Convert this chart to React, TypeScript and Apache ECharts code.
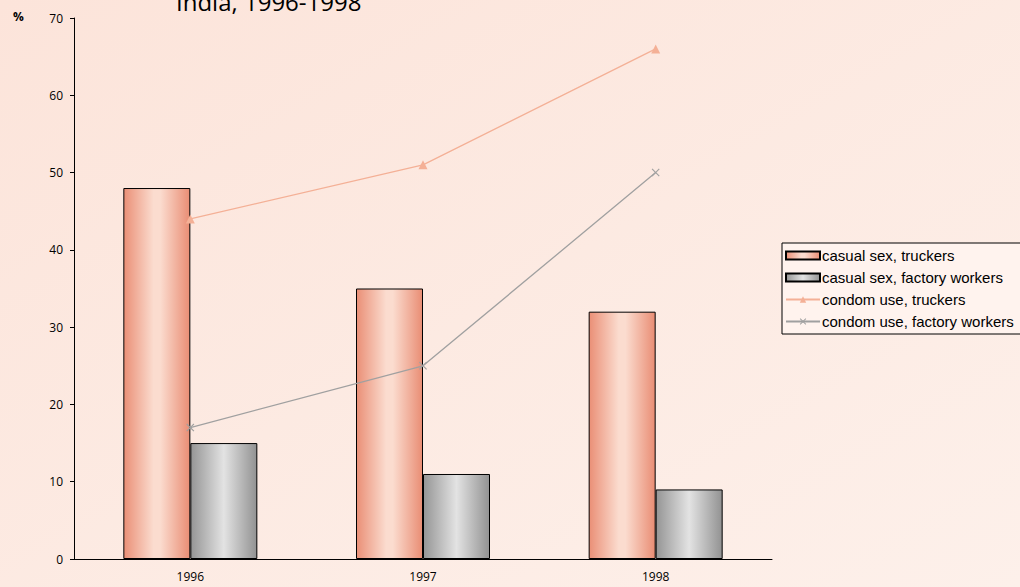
import React, { useEffect, useRef } from "react";
import * as echarts from "echarts";

const years = ["1996", "1997", "1998"];
const casualTruckers = [48, 35, 32];
const casualFactory = [15, 11, 9];
const condomTruckers = [44, 51, 66];
const condomFactory = [17, 25, 50];
const titleText = "India, 1996-1998";

const crossPath =
  "path://M0,1 L1,0 L5,4 L9,0 L10,1 L6,5 L10,9 L9,10 L5,6 L1,10 L0,9 L4,5 Z";

export default function App() {
  const ref = useRef<HTMLDivElement>(null);
  useEffect(() => {
    if (!ref.current) return;
    const chart = echarts.init(ref.current, undefined, { renderer: "svg" });
    const salmon = new echarts.graphic.LinearGradient(0, 0, 1, 0, [
      { offset: 0, color: "#ea8f76" },
      { offset: 0.45, color: "#fbdccf" },
      { offset: 0.55, color: "#fbdccf" },
      { offset: 1, color: "#e98d74" },
    ]);
    const gray = new echarts.graphic.LinearGradient(0, 0, 1, 0, [
      { offset: 0, color: "#959595" },
      { offset: 0.5, color: "#e3e3e3" },
      { offset: 1, color: "#929292" },
    ]);
    chart.setOption({
      animation: false,
      backgroundColor: new echarts.graphic.LinearGradient(0, 0, 1, 1, [
        { offset: 0, color: "#fce4da" },
        { offset: 1, color: "#fdf0ea" },
      ]),
      textStyle: { fontFamily: "Open Sans" },
      graphic: [
        {
          type: "text",
          left: 176,
          top: -11,
          style: { text: titleText, font: "24px 'Open Sans'", fill: "#000" },
        },
        {
          type: "text",
          left: 13,
          top: 10,
          style: { text: "%", font: "bold 12px 'Open Sans'", fill: "#000" },
        },
      ],
      grid: { left: 74, right: 248, top: 18, bottom: 28 },
      legend: {
        orient: "vertical",
        left: 782,
        top: 243,
        padding: [5, 12, 5, 3],
        itemGap: 7,
        itemWidth: 34,
        itemHeight: 8,
        borderColor: "#000",
        borderWidth: 1,
        backgroundColor: "#fff3ee",
        textStyle: { fontFamily: "Liberation Sans, Arial", fontSize: 15, color: "#000", padding: [0, 0, 0, -3] },
        data: [
          { name: "casual sex, truckers", icon: "rect" },
          { name: "casual sex, factory workers", icon: "rect" },
          { name: "condom use, truckers" },
          { name: "condom use, factory workers" },
        ],
      },
      xAxis: {
        type: "category",
        data: years,
        axisLine: { lineStyle: { color: "#000", width: 1 } },
        axisTick: { length: 4, lineStyle: { color: "#000" } },
        axisLabel: { color: "#000", fontSize: 12, margin: 11 },
      },
      yAxis: {
        type: "value",
        min: 0,
        max: 70,
        interval: 10,
        splitLine: { show: false },
        axisLine: { show: true, lineStyle: { color: "#000", width: 1 } },
        axisTick: { show: true, length: 4, lineStyle: { color: "#000" } },
        axisLabel: { color: "#000", fontSize: 12, margin: 11 },
      },
      series: [
        {
          name: "casual sex, truckers",
          type: "bar",
          data: casualTruckers,
          barWidth: 67,
          barGap: "0%",
          itemStyle: { color: salmon, borderColor: "#000", borderWidth: 1 },
        },
        {
          name: "casual sex, factory workers",
          type: "bar",
          data: casualFactory,
          barWidth: 67,
          barGap: "0%",
          itemStyle: { color: gray, borderColor: "#000", borderWidth: 1 },
        },
        {
          name: "condom use, truckers",
          type: "line",
          data: condomTruckers,
          symbol: "triangle",
          symbolSize: 9,
          lineStyle: { color: "#f4b096", width: 1.3 },
          itemStyle: { color: "#f4b096" },
        },
        {
          name: "condom use, factory workers",
          type: "line",
          data: condomFactory,
          symbol: crossPath,
          symbolSize: 8,
          lineStyle: { color: "#a0a0a0", width: 1.3 },
          itemStyle: { color: "#a0a0a0" },
        },
      ],
    });
    return () => chart.dispose();
  }, []);
  return <div ref={ref} style={{ width: 1020, height: 587, position: "fixed", left: 0, top: 0 }} />;
}
